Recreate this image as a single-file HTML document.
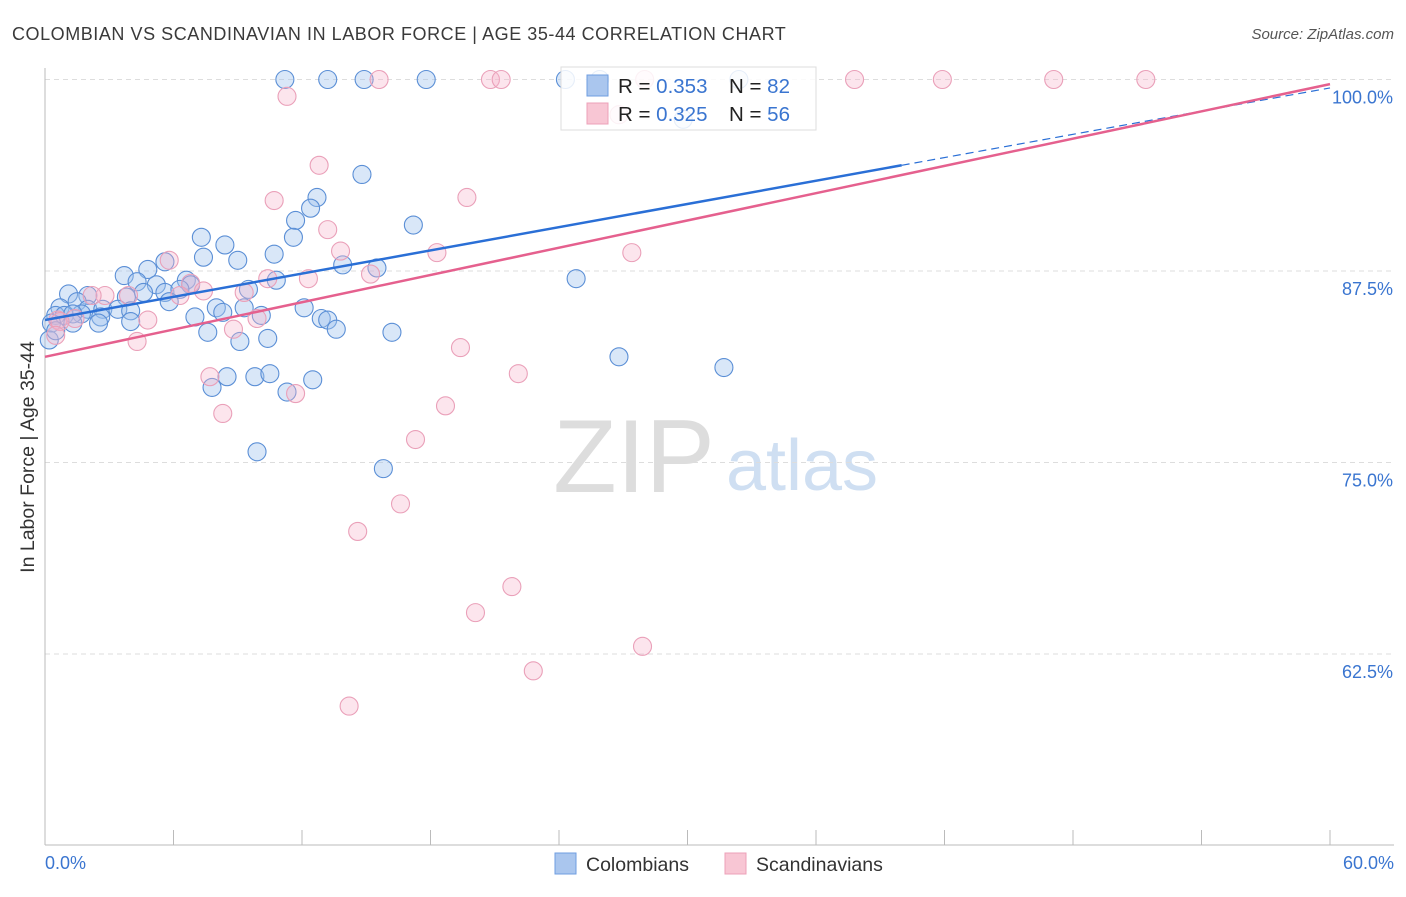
<!DOCTYPE html>
<html><head><meta charset="utf-8"><style>
body{margin:0;background:#fff;font-family:"Liberation Sans",sans-serif}
svg text{font-family:"Liberation Sans",sans-serif}
</style></head><body>
<svg id="chart" width="1406" height="892" xmlns="http://www.w3.org/2000/svg">
<text x="12" y="40" font-size="18" fill="#3a3a3a" letter-spacing="0.55">COLOMBIAN VS SCANDINAVIAN IN LABOR FORCE | AGE 35-44 CORRELATION CHART</text>
<text x="1394" y="39" font-size="15" fill="#555" text-anchor="end" font-style="italic">Source: ZipAtlas.com</text>
<g>
<text x="634" y="492" font-size="104" fill="#ddd" font-family="Liberation Serif" text-anchor="middle">ZIP</text>
<text x="802" y="490" font-size="72" fill="#cfdff2" text-anchor="middle">atlas</text>
</g>
<g id="grid"></g>
<g id="axes"></g>
<g id="marks"></g>
<g id="trends"></g>
<text transform="translate(34,457) rotate(-90)" font-size="19.5" fill="#333" text-anchor="middle">In Labor Force | Age 35-44</text>
<text x="45" y="869" font-size="18" fill="#3a75d0">0.0%</text>
<text x="1394" y="869" font-size="18" fill="#3a75d0" text-anchor="end">60.0%</text>
<g>
<rect x="561" y="67" width="255" height="63" fill="#fff" fill-opacity="0.85" stroke="#ddd"/>
<rect x="587" y="75" width="21" height="21" fill="#aac6ee" stroke="#6f9ee0"/>
<rect x="587" y="103" width="21" height="21" fill="#f8c6d4" stroke="#eda0b8"/>
<text x="618" y="93" font-size="20.5" fill="#222">R = <tspan fill="#3a75d0">0.353</tspan></text>
<text x="729" y="93" font-size="20.5" fill="#222">N = <tspan fill="#3a75d0">82</tspan></text>
<text x="618" y="121" font-size="20.5" fill="#222">R = <tspan fill="#3a75d0">0.325</tspan></text>
<text x="729" y="121" font-size="20.5" fill="#222">N = <tspan fill="#3a75d0">56</tspan></text>
</g>
<g>
<rect x="555" y="853" width="21" height="21" fill="#aac6ee" stroke="#6f9ee0"/>
<text x="586" y="871" font-size="19.5" fill="#333">Colombians</text>
</g>
<g>
<rect x="725" y="853" width="21" height="21" fill="#f8c6d4" stroke="#eda0b8"/>
<text x="756" y="871" font-size="19.5" fill="#333">Scandinavians</text>
</g>
</svg>
<script>
const yTicks=[100,87.5,75,62.5];
const yTickLabels=["100.0%","87.5%","75.0%","62.5%"];
const xTicks=[6,12,18,24,30,36,42,48,54,60];
const blueX=[11.2,13.2,14.9,17.8,24.3,29.8,14.8,12.7,12.4,11.7,17.2,7.3,8.4,11.6,9.0,10.7,7.4,5.6,4.8,3.7,13.9,15.5,24.8,6.6,10.8,4.3,5.2,6.8,5.6,6.3,9.5,1.1,2.0,3.8,4.6,1.5,0.7,8.0,9.3,12.1,5.8,2.0,2.7,3.4,4.0,1.7,2.6,0.5,0.9,1.3,2.5,1.3,0.3,7.0,8.3,10.1,12.9,13.2,13.6,16.2,7.6,9.1,10.4,26.8,31.7,8.5,9.8,10.5,7.8,12.5,11.3,9.9,15.8,0.2,0.5,4.0,25.9,32.4];
const blueY=[100,100,100,100,100,97.4,93.8,92.3,91.6,90.8,90.5,89.7,89.2,89.7,88.2,88.6,88.4,88.1,87.6,87.2,87.9,87.7,87.0,86.9,86.9,86.8,86.6,86.6,86.1,86.3,86.3,86.0,85.9,85.8,86.1,85.5,85.1,85.1,85.1,85.1,85.5,85.0,85.0,85.0,84.9,84.7,84.5,84.6,84.6,84.7,84.1,84.1,84.1,84.5,84.8,84.6,84.4,84.3,83.7,83.5,83.5,82.9,83.1,81.9,81.2,80.6,80.6,80.8,79.9,80.4,79.6,75.7,74.6,83.0,83.6,84.2,100,100];
const pinkX=[15.6,20.8,21.3,28.0,26.8,37.8,41.9,47.1,51.4,11.3,12.8,10.7,19.7,13.2,13.8,18.3,27.4,5.8,10.4,12.3,15.2,6.8,7.4,9.3,6.3,3.9,2.8,2.2,8.8,4.8,9.9,4.3,1.4,0.6,19.4,22.1,7.7,11.7,8.3,18.7,17.3,16.6,14.6,21.8,20.1,27.9,22.8,14.2,0.7,0.5];
const pinkY=[100,100,100,100,97.7,100,100,100,100,98.9,94.4,92.1,92.3,90.2,88.8,88.7,88.7,88.2,87.0,87.0,87.3,86.7,86.2,86.1,85.9,85.9,85.9,85.9,83.7,84.3,84.4,82.9,84.4,84.3,82.5,80.8,80.6,79.5,78.2,78.7,76.5,72.3,70.5,66.9,65.2,63.0,61.4,59.1,84.2,83.3];
const blueTrend=[84.3,99.45];
const pinkTrend=[81.9,99.7];
const NS="http://www.w3.org/2000/svg";
const sx=v=>45+v/60*1285;
const sy=v=>79.5+(100-v)/12.5*191.5;
function mk(tag,parent,attrs){const e=document.createElementNS(NS,tag);for(const k in attrs)e.setAttribute(k,attrs[k]);document.getElementById(parent).appendChild(e);return e;}
yTicks.forEach((t,i)=>{
  const g=mk('line','grid',{x1:45,x2:1394,y1:sy(t),y2:sy(t),stroke:'#ddd','stroke-dasharray':'5,4'});
  
  
  const l=mk('text','grid',{x:1393,y:sy(t)+24,'font-size':18,fill:'#3a75d0','text-anchor':'end'});
  l.textContent=yTickLabels[i];
  
  
});
const ya=mk('line','axes',{x1:45,x2:45,y1:68,y2:845,stroke:'#bbb'});


const xa=mk('line','axes',{x1:45,x2:1394,y1:845,y2:845,stroke:'#bbb'});


xTicks.forEach(t=>{
  const k=mk('line','axes',{x1:sx(t),x2:sx(t),y1:830,y2:845,stroke:'#bbb'});
  
  
});
blueX.forEach((x,i)=>{
  const c=mk('circle','marks',{cx:sx(x),cy:sy(blueY[i]),r:9,fill:'rgba(160,195,238,0.4)',stroke:'#5b8fd6','stroke-width':1.1});
  
  
});
pinkX.forEach((x,i)=>{
  const c=mk('circle','marks',{cx:sx(x),cy:sy(pinkY[i]),r:9,fill:'rgba(245,180,202,0.35)',stroke:'#eaa0b9','stroke-width':1.1});
  
  
});
const bAt=x=>blueTrend[0]+(blueTrend[1]-blueTrend[0])*x/60;
const t1=mk('line','trends',{x1:sx(0),y1:sy(bAt(0)),x2:sx(40),y2:sy(bAt(40)),stroke:'#2a6fd6','stroke-width':2.5});


const t2=mk('line','trends',{x1:sx(40),y1:sy(bAt(40)),x2:sx(60),y2:sy(bAt(60)),stroke:'#2a6fd6','stroke-width':1.2,'stroke-dasharray':'8,5'});


const t3=mk('line','trends',{x1:sx(0),y1:sy(pinkTrend[0]),x2:sx(60),y2:sy(pinkTrend[1]),stroke:'#e5608e','stroke-width':2.5});


</script>
</body></html>
